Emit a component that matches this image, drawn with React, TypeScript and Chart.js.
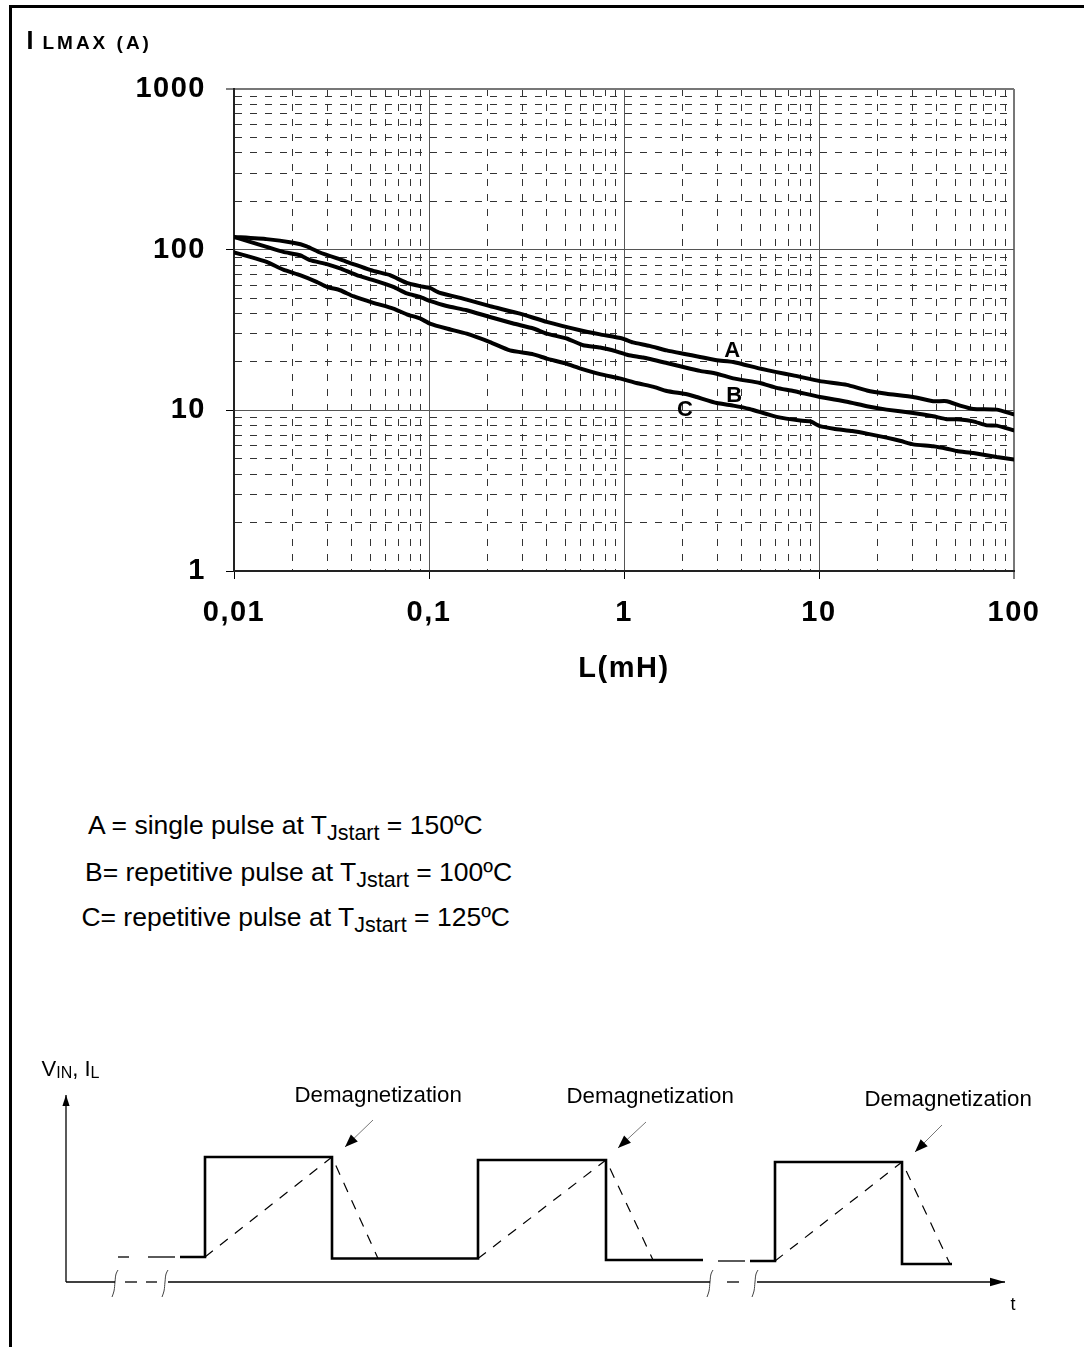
import React, { useEffect, useRef } from 'react';
import { Chart, registerables } from 'chart.js';

Chart.register(...registerables);

const FONT = "'Liberation Sans', Arial, Helvetica, sans-serif";

// ---------- main chart data ----------
const xDecades = [0.01, 0.1, 1, 10, 100];
const xTickLabels = ['0,01', '0,1', '1', '10', '100'];
const yDecades = [1, 10, 100, 1000];
const yTickLabels = ['1', '10', '100', '1000'];

const curveA_L = [0.01, 0.0147, 0.0201, 0.0236, 0.0276, 0.035, 0.0518, 0.0631, 0.0769, 0.0899, 0.101, 0.1127, 0.156, 0.2055, 0.2929, 0.4014, 0.595, 0.754, 0.98, 1.11, 1.35, 1.655, 2.015, 2.453, 2.99, 3.635, 4.98, 6.06, 7.38, 10.1, 13.9, 17.6, 22.2, 30.4, 38.5, 45.2, 52.9, 61.9, 81.5, 100];
const curveA_I = [120, 116.3, 110.3, 105, 96, 86.9, 73.8, 69.4, 62.1, 59.3, 57.8, 54.1, 48.9, 44.5, 40.0, 35.5, 31.5, 29.7, 28.0, 26.5, 25.2, 23.6, 22.5, 21.5, 20.5, 20.0, 18.2, 17.3, 16.5, 15.2, 14.4, 13.3, 12.7, 12.1, 11.4, 11.4, 10.7, 10.2, 10.1, 9.44];

const curveB_L = [0.01, 0.0121, 0.0147, 0.0179, 0.0218, 0.0245, 0.0299, 0.035, 0.0426, 0.0518, 0.0656, 0.0769, 0.0899, 0.101, 0.1232, 0.156, 0.2055, 0.2705, 0.343, 0.4014, 0.508, 0.618, 0.754, 0.912, 1.047, 1.256, 1.655, 2.015, 2.453, 2.99, 3.635, 4.98, 6.06, 7.38, 10.1, 13.9, 17.6, 22.2, 30.4, 38.5, 45.2, 52.9, 61.9, 72.4, 81.5, 100];
const curveB_I = [120, 111.9, 104.1, 96.9, 92.4, 86.1, 81.3, 76.4, 69.4, 64.6, 58.7, 53.4, 50.8, 48.0, 44.6, 42.0, 38.1, 34.7, 32.3, 30.0, 28.0, 25.4, 24.6, 23.3, 22.1, 21.3, 19.7, 18.6, 17.6, 16.9, 15.8, 14.8, 13.8, 13.2, 12.1, 11.3, 10.6, 10.1, 9.62, 9.18, 8.8, 8.78, 8.54, 8.06, 8.03, 7.5];

const curveC_L = [0.01, 0.0121, 0.0147, 0.0179, 0.0218, 0.0265, 0.0299, 0.035, 0.0409, 0.0518, 0.0656, 0.0769, 0.0899, 0.101, 0.1232, 0.156, 0.2055, 0.26, 0.343, 0.4014, 0.5, 0.6, 0.754, 0.95, 1.16, 1.42, 1.655, 2.1, 2.36, 2.99, 3.635, 4.4, 6.06, 8.2, 9.0, 10.1, 11.9, 14.8, 17.6, 22.2, 26.3, 30.4, 38.5, 45.2, 50.9, 61.9, 81.5, 100];
const curveC_I = [96.0, 90.2, 83.9, 75.2, 69.4, 63.1, 58.7, 55.9, 51.3, 46.7, 43.0, 39.6, 37.3, 34.7, 32.3, 30.0, 26.6, 23.6, 22.3, 21.0, 19.6, 18.2, 16.8, 15.8, 14.8, 14.0, 13.2, 12.6, 12.1, 11.1, 10.7, 10.2, 9.1, 8.6, 8.55, 7.98, 7.69, 7.43, 7.16, 6.76, 6.44, 6.14, 5.97, 5.77, 5.58, 5.42, 5.12, 4.95];

const curveNames = ['A', 'B', 'C'];
const curveLabelL = [3.62, 3.71, 2.07];
const curveLabelI = [24.1, 12.64, 10.25];

const legendPrefixes = ['A = single pulse at T', 'B= repetitive pulse at T', 'C= repetitive pulse at T'];
const legendSub = 'Jstart';
const legendTemps = ['150ºC', '100ºC', '125ºC'];

// ---------- waveform diagram data (time units, level units) ----------
const waveA_t = [114, 139, 139, 266, 266, 412, 412, 540, 540, 637];
const waveA_v = [25, 25, 125, 125, 23.5, 23.5, 122, 122, 22, 22];
const waveB_t = [684, 709, 709, 836, 836, 886];
const waveB_v = [21, 21, 120, 120, 18, 18];
const lead1_t = [52, 63];
const lead2_t = [82, 109];
const lead_v = [25, 25];
const gap_t = [652, 679];
const gap_v = [21, 21];

const ramp1_t = [139, 266, 312];
const ramp1_v = [25, 125, 23.5];
const ramp2_t = [412, 540, 587];
const ramp2_v = [23.5, 122, 22];
const ramp3_t = [709, 836, 884];
const ramp3_v = [21, 120, 18];

const axisPieces_t = [[0, 49], [59, 71], [80, 91], [102, 644], [661, 673]];
const axisLast_t = [691, 939];
const yAxis_t = [0, 0];
const yAxis_v = [0, 187];
const breakCenters = [49, 99, 644, 689];

const demag1_t = [307, 279];
const demag1_v = [162, 135];
const demag2_t = [580, 552];
const demag2_v = [160, 134];
const demag3_t = [876, 849];
const demag3_v = [157, 130];
const demagLabel = 'Demagnetization';

// ---------- helpers ----------
const pts = (xs: number[], ys: number[]) => xs.map((x, i) => ({ x, y: ys[i] }));
const nearDecade = (v: number, decs: number[]) => decs.some((d) => Math.abs(v / d - 1) < 1e-6);
const buildLogTicks = (decs: number[]) => {
  const out: number[] = [];
  for (let i = 0; i < decs.length - 1; i++) {
    for (let m = 1; m <= 9; m++) out.push(Number((m * decs[i]).toPrecision(6)));
  }
  out.push(decs[decs.length - 1]);
  return out;
};
const decadeLabel = (v: number, decs: number[], labels: string[]) => {
  const i = decs.findIndex((d) => Math.abs(v / d - 1) < 1e-6);
  return i >= 0 ? labels[i] : '';
};

const letterSpacingPlugin = {
  id: 'letterSpacing',
  beforeDraw(chart: any) {
    chart.ctx.letterSpacing = '1.5px';
  },
  afterDraw(chart: any) {
    chart.ctx.letterSpacing = '0px';
  },
};

const curveLabelPlugin = {
  id: 'curveLabels',
  afterDatasetsDraw(chart: any) {
    const { ctx, scales } = chart;
    const size = 22;
    ctx.save();
    ctx.font = `bold ${size}px ${FONT}`;
    ctx.fillStyle = '#000';
    ctx.textAlign = 'center';
    ctx.textBaseline = 'alphabetic';
    curveNames.forEach((n, i) => {
      const px = scales.x.getPixelForValue(curveLabelL[i]);
      const py = scales.y.getPixelForValue(curveLabelI[i]);
      ctx.fillText(n, px, py + size * 0.358);
    });
    ctx.restore();
  },
};

const arrowPlugin = {
  id: 'arrowHeads',
  afterDatasetsDraw(chart: any) {
    const ctx = chart.ctx;
    chart.data.datasets.forEach((ds: any, i: number) => {
      if (!ds.arrow) return;
      const data = chart.getDatasetMeta(i).data;
      const a = data[data.length - 2];
      const b = data[data.length - 1];
      const ang = Math.atan2(b.y - a.y, b.x - a.x);
      const { len, half } = ds.arrow;
      const bx = b.x - len * Math.cos(ang);
      const by = b.y - len * Math.sin(ang);
      ctx.save();
      ctx.fillStyle = '#000';
      ctx.beginPath();
      ctx.moveTo(b.x, b.y);
      ctx.lineTo(bx + half * Math.sin(ang), by - half * Math.cos(ang));
      ctx.lineTo(bx - half * Math.sin(ang), by + half * Math.cos(ang));
      ctx.closePath();
      ctx.fill();
      ctx.restore();
    });
  },
};

const xTickValues = buildLogTicks(xDecades);
const yTickValues = buildLogTicks(yDecades);

function gridFor(decs: number[], maxV: number) {
  return {
    color: (c: any) => {
      const v = c.tick?.value;
      if (v === undefined) return '#000';
      if (Math.abs(v / maxV - 1) < 1e-6) return '#777';
      return nearDecade(v, decs) ? '#555' : '#333';
    },
    lineWidth: (c: any) => {
      const v = c.tick?.value;
      if (v !== undefined && Math.abs(v / maxV - 1) < 1e-6) return 2;
      return 1;
    },
    tickColor: (c: any) => {
      const v = c.tick?.value;
      return v !== undefined && nearDecade(v, decs) ? '#000' : 'rgba(0,0,0,0)';
    },
    tickLength: 8,
    tickWidth: 1,
  };
}

function borderFor(decs: number[]) {
  return {
    display: true,
    color: '#222',
    width: 2,
    dash: (c: any) => (c.tick && !nearDecade(c.tick.value, decs) ? [7, 8] : []),
  };
}

function mainConfig(): any {
  const lineDs = (label: string, xs: number[], ys: number[]) => ({
    label,
    data: pts(xs, ys),
    borderColor: '#000',
    borderWidth: 4,
    pointRadius: 0,
    tension: 0.15,
    fill: false,
    borderCapStyle: 'round',
    borderJoinStyle: 'round',
  });
  const tickFont = { family: FONT, size: 29, weight: 'bold' as const };
  return {
    type: 'line',
    data: {
      datasets: [
        lineDs('A', curveA_L, curveA_I),
        lineDs('B', curveB_L, curveB_I),
        lineDs('C', curveC_L, curveC_I),
      ],
    },
    options: {
      animation: false,
      responsive: false,
      events: [],
      layout: { padding: { left: 0, top: 89, right: 70, bottom: 3.6 } },
      scales: {
        x: {
          type: 'logarithmic',
          position: 'bottom',
          min: 0.01,
          max: 100,
          afterBuildTicks: (s: any) => {
            s.ticks = xTickValues.map((value) => ({ value }));
          },
          afterFit: (s: any) => {
            s.height = 115.4;
          },
          ticks: {
            autoSkip: false,
            maxRotation: 0,
            minRotation: 0,
            padding: 17,
            color: '#000',
            font: tickFont,
            callback: (v: any) => decadeLabel(Number(v), xDecades, xTickLabels),
          },
          grid: gridFor(xDecades, 100),
          border: borderFor(xDecades),
          title: {
            display: true,
            text: 'L(mH)',
            color: '#000',
            font: { family: FONT, size: 29, weight: 'bold' },
            padding: 0,
          },
        },
        y: {
          type: 'logarithmic',
          position: 'left',
          min: 1,
          max: 1000,
          afterBuildTicks: (s: any) => {
            s.ticks = yTickValues.map((value) => ({ value }));
          },
          afterFit: (s: any) => {
            s.width = 234;
          },
          ticks: {
            autoSkip: false,
            padding: 20,
            color: '#000',
            font: tickFont,
            callback: (v: any) => decadeLabel(Number(v), yDecades, yTickLabels),
          },
          grid: gridFor(yDecades, 1000),
          border: borderFor(yDecades),
        },
      },
      plugins: {
        legend: { display: false },
        tooltip: { enabled: false },
        title: { display: false },
      },
    },
    plugins: [letterSpacingPlugin, curveLabelPlugin],
  };
}

function diagConfig(): any {
  const ds = (xs: number[], ys: number[], extra: any = {}) => ({
    data: pts(xs, ys),
    borderColor: '#000',
    borderWidth: 1.3,
    pointRadius: 0,
    fill: false,
    clip: false,
    tension: 0,
    ...extra,
  });
  const datasets: any[] = [
    ds(waveA_t, waveA_v, { borderWidth: 2.6, borderJoinStyle: 'miter' }),
    ds(waveB_t, waveB_v, { borderWidth: 2.6, borderJoinStyle: 'miter' }),
    ds(lead1_t, lead_v),
    ds(lead2_t, lead_v),
    ds(gap_t, gap_v),
    ds(ramp1_t, ramp1_v, { borderWidth: 1.2, borderDash: [10, 9] }),
    ds(ramp2_t, ramp2_v, { borderWidth: 1.2, borderDash: [10, 9] }),
    ds(ramp3_t, ramp3_v, { borderWidth: 1.2, borderDash: [10, 9] }),
    ds(yAxis_t, yAxis_v, { arrow: { len: 11, half: 3.6 } }),
    ...axisPieces_t.map((p) => ds(p, [0, 0])),
    ds(axisLast_t, [0, 0], { arrow: { len: 15, half: 4.2 } }),
    ...breakCenters.map((c) =>
      ds([c + 3, c + 1, c, c - 1, c - 3], [12, 8, 0, -9, -15], { borderWidth: 1, borderColor: '#444', tension: 0.4 })
    ),
    ds(demag1_t, demag1_v, { borderWidth: 1, borderColor: '#777', arrow: { len: 13, half: 5 } }),
    ds(demag2_t, demag2_v, { borderWidth: 1, borderColor: '#777', arrow: { len: 13, half: 5 } }),
    ds(demag3_t, demag3_v, { borderWidth: 1, borderColor: '#777', arrow: { len: 13, half: 5 } }),
  ];
  return {
    type: 'line',
    data: { datasets },
    options: {
      animation: false,
      responsive: false,
      events: [],
      layout: { padding: { left: 66, right: 79, top: 53, bottom: 58 } },
      scales: {
        x: { type: 'linear', min: 0, max: 939, display: false },
        y: { type: 'linear', min: 0, max: 189, display: false },
      },
      plugins: { legend: { display: false }, tooltip: { enabled: false } },
    },
    plugins: [arrowPlugin],
  };
}

const abs = (left: number, top: number, size: number, extra: any = {}): React.CSSProperties => ({
  position: 'absolute',
  left,
  top,
  fontSize: size,
  lineHeight: 1,
  whiteSpace: 'nowrap',
  ...extra,
});

const legendPos = [
  { left: 88, top: 811.9 },
  { left: 85, top: 858.6 },
  { left: 81.4, top: 904.3 },
];
const demagPos = [
  { left: 294.5, top: 1083.8 },
  { left: 566.5, top: 1085.1 },
  { left: 864.5, top: 1088.4 },
];

export default function App() {
  const mainRef = useRef<HTMLCanvasElement>(null);
  const diagRef = useRef<HTMLCanvasElement>(null);

  useEffect(() => {
    const c1 = new Chart(mainRef.current as HTMLCanvasElement, mainConfig());
    const c2 = new Chart(diagRef.current as HTMLCanvasElement, diagConfig());
    return () => {
      c1.destroy();
      c2.destroy();
    };
  }, []);

  return (
    <div
      style={{
        position: 'absolute',
        left: 0,
        top: 0,
        width: 1084,
        height: 1347,
        overflow: 'hidden',
        background: '#fff',
        color: '#000',
        fontFamily: FONT,
      }}
    >
      {/* figure frame */}
      <div
        style={{
          position: 'absolute',
          left: 9,
          top: 5,
          width: 1200,
          height: 1400,
          borderTop: '3px solid #000',
          borderLeft: '3px solid #000',
        }}
      />
      <canvas ref={mainRef} width={1084} height={690} style={{ position: 'absolute', left: 0, top: 0 }} />
      <canvas ref={diagRef} width={1084} height={300} style={{ position: 'absolute', left: 0, top: 1040 }} />

      {/* y axis title */}
      <div style={abs(26.5, 27.8, 25, { fontWeight: 'bold' })}>
        I
        <span style={{ fontSize: 19, letterSpacing: 3, marginLeft: 9 }}>LMAX (A)</span>
      </div>

      {/* legend */}
      {legendPrefixes.map((p, i) => (
        <div key={p} style={abs(legendPos[i].left, legendPos[i].top, 26.5)}>
          {p}
          <span style={{ fontSize: 21.5, position: 'relative', top: 6 }}>{legendSub}</span>
          {' = ' + legendTemps[i]}
        </div>
      ))}

      {/* waveform texts */}
      <div style={abs(41.5, 1058.1, 22)}>
        V<span style={{ fontSize: 16, position: 'relative', top: 2 }}>IN</span>, I
        <span style={{ fontSize: 16, position: 'relative', top: 2 }}>L</span>
      </div>
      {demagPos.map((p, i) => (
        <div key={i} style={abs(p.left, p.top, 22.3)}>
          {demagLabel}
        </div>
      ))}
      <div style={abs(1010.5, 1294.8, 18)}>t</div>
    </div>
  );
}
